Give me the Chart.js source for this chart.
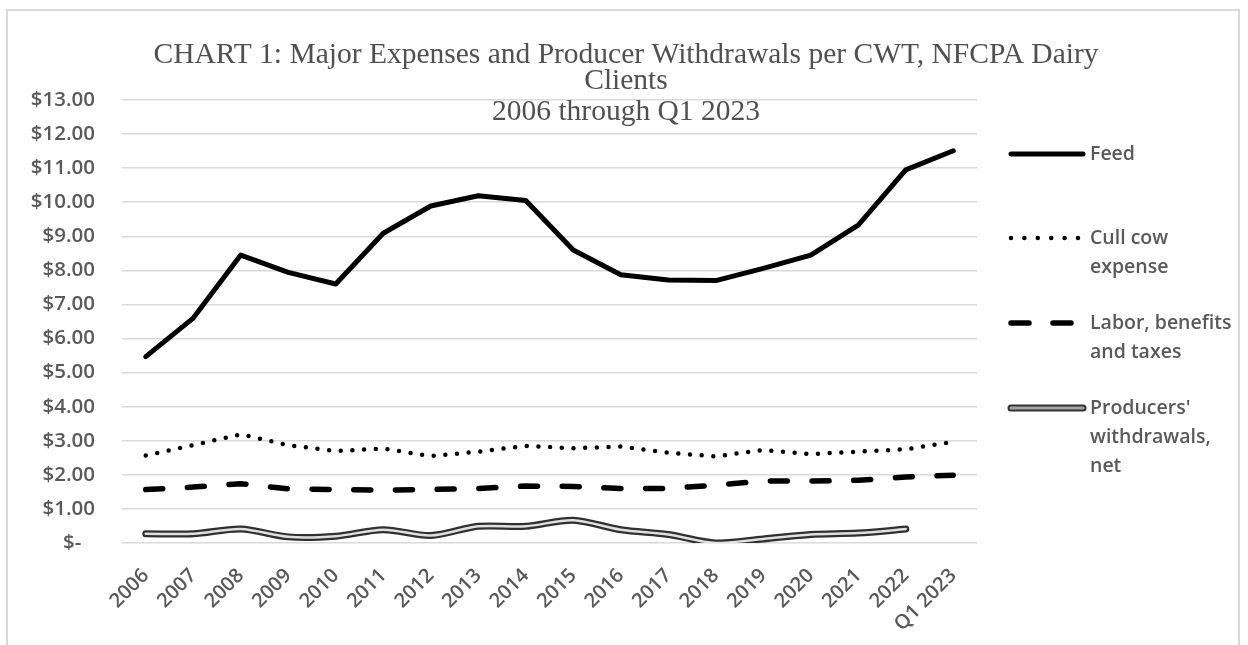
<!DOCTYPE html>
<html>
<head>
<meta charset="utf-8">
<script src="https://cdn.jsdelivr.net/npm/chart.js@4/dist/chart.umd.min.js"></script>
<style>
  html, body { margin: 0; padding: 0; background: #fff; width: 1248px; height: 645px; overflow: hidden; }
  #frame { position: absolute; left: 6px; top: 9px; width: 1234px; height: 700px; border: 2px solid #d9d9d9; box-sizing: border-box; }
  canvas { position: absolute; left: 0; top: 0; }
</style>
</head>
<body>
<div id="frame"></div>
<canvas id="c" width="1248" height="645"></canvas>
<script>
const categories = ['2006','2007','2008','2009','2010','2011','2012','2013','2014','2015','2016','2017','2018','2019','2020','2021','2022','Q1 2023'];
const feed = [5.47, 6.60, 8.45, 7.94, 7.60, 9.09, 9.89, 10.19, 10.05, 8.60, 7.87, 7.72, 7.70, 8.06, 8.45, 9.33, 10.95, 11.51];
const cullCow = [2.57, 2.87, 3.19, 2.87, 2.70, 2.77, 2.55, 2.68, 2.85, 2.78, 2.83, 2.65, 2.54, 2.73, 2.61, 2.68, 2.75, 2.97];
const labor = [1.57, 1.64, 1.74, 1.59, 1.57, 1.55, 1.57, 1.60, 1.67, 1.66, 1.60, 1.60, 1.70, 1.82, 1.82, 1.84, 1.94, 1.99];
const producers = [0.27, 0.27, 0.41, 0.18, 0.20, 0.39, 0.22, 0.49, 0.49, 0.67, 0.39, 0.25, 0.00, 0.12, 0.25, 0.29, 0.41, null];
const seriesNames = ['Feed', 'Cull cow\nexpense', 'Labor, benefits\nand taxes', "Producers'\nwithdrawals,\nnet"];
const titleLines = ['CHART 1: Major Expenses and Producer Withdrawals per CWT, NFCPA Dairy', 'Clients', '2006 through Q1 2023'];
const yMin = 0, yMax = 13, yStep = 1;

const textColor = '#595959';
const sans = "'Open Sans', 'Noto Sans', sans-serif";

const overlay = {
  id: 'overlay',
  afterDraw(chart) {
    const ctx = chart.ctx;
    ctx.save();
    // title
    ctx.fillStyle = '#505050';
    ctx.font = "29.5px 'Liberation Serif', 'DejaVu Serif', serif";
    ctx.textAlign = 'center';
    ctx.textBaseline = 'alphabetic';
    const tBase = [63, 89, 120];
    titleLines.forEach((t, i) => ctx.fillText(t, 626, tBase[i]));
    // legend
    const legY = [154, 238, 323, 408];
    const x0 = 1011, tx = 1090;
    const styles = [
      [{ c: '#000', w: 5, d: [], cap: 'round', e: 1083 }],
      [{ c: '#000', w: 4.5, d: [0, 13.4], cap: 'round', e: 1080 }],
      [{ c: '#000', w: 5.5, d: [18, 24], cap: 'round', e: 1080 }],
      [{ c: '#333', w: 7, d: [], cap: 'round', e: 1083 }, { c: '#a6a6a6', w: 3, d: [], cap: 'round', e: 1083 }]
    ];
    styles.forEach((st, i) => {
      st.forEach(s => {
        ctx.beginPath();
        ctx.strokeStyle = s.c; ctx.lineWidth = s.w; ctx.setLineDash(s.d); ctx.lineCap = s.cap;
        ctx.moveTo(x0, legY[i]); ctx.lineTo(s.e, legY[i]); ctx.stroke();
      });
      ctx.setLineDash([]);
      ctx.fillStyle = textColor;
      ctx.font = '600 19.5px ' + sans;
      ctx.textAlign = 'left';
      ctx.textBaseline = 'middle';
      seriesNames[i].split('\n').forEach((ln, k) => ctx.fillText(ln, tx, legY[i] + k * 29));
    });
    ctx.restore();
  }
};

new Chart(document.getElementById('c'), {
  type: 'line',
  data: {
    labels: categories,
    datasets: [
      { label: 'Feed', data: feed, borderColor: '#000', borderWidth: 5, borderJoinStyle: 'round', borderCapStyle: 'round', pointRadius: 0, order: 1 },
      { label: 'Cull cow expense', data: cullCow, borderColor: '#000', borderWidth: 4.5, borderDash: [0, 11.7], borderCapStyle: 'round', pointRadius: 0, order: 2 },
      { label: 'Labor, benefits and taxes', data: labor, borderColor: '#000', borderWidth: 5.5, borderDash: [17, 24.7], borderCapStyle: 'round', pointRadius: 0, order: 3 },
      { label: "Producers' withdrawals, net", data: producers, borderColor: '#e0e0e0', borderWidth: 2.5, tension: 0.3, borderCapStyle: 'round', pointRadius: 0, order: 4 },
      { label: "Producers' withdrawals, net (outline)", data: producers, borderColor: '#303030', borderWidth: 7, tension: 0.3, borderCapStyle: 'round', pointRadius: 0, order: 5 }
    ]
  },
  options: {
    responsive: false,
    devicePixelRatio: 1,
    animation: false,
    layout: { padding: { left: 0, right: 271, top: 100, bottom: 0 } },
    plugins: { legend: { display: false }, title: { display: false }, tooltip: { enabled: false } },
    scales: {
      x: {
        offset: true,
        grid: { display: false },
        border: { display: false },
        ticks: { autoSkip: false, maxRotation: 45, minRotation: 45, color: textColor, font: { family: sans, size: 20, weight: '600' }, padding: 13 },
        afterFit(s) { s.height = 102; }
      },
      y: {
        min: yMin, max: yMax,
        grid: { color: '#d9d9d9', lineWidth: 1.5, drawTicks: false },
        border: { display: false },
        ticks: {
          stepSize: yStep, color: textColor, font: { family: sans, size: 20.5, weight: '600' }, padding: 27,
          callback: v => v === 0 ? '$-\u2002\u2009' : '$' + v.toFixed(2)
        },
        afterFit(s) { s.width = 122; }
      }
    }
  },
  plugins: [overlay]
});
</script>
</body>
</html>
